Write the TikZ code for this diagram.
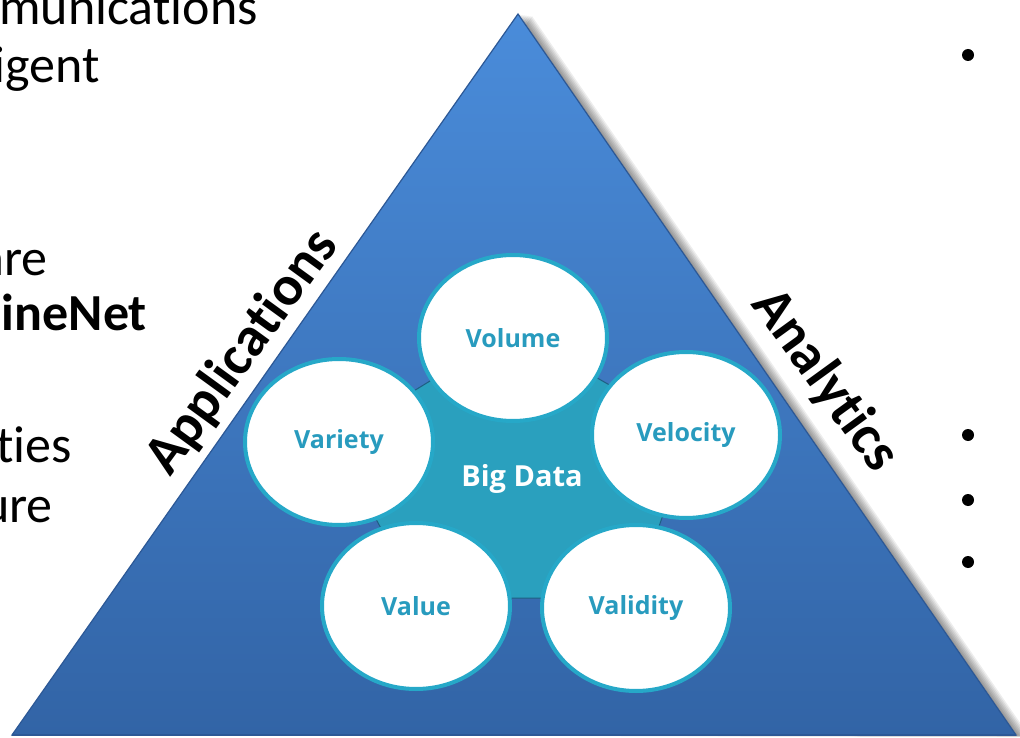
\documentclass[tikz,border=0pt]{standalone}
\usepackage{fontspec}
\setmainfont{Carlito}[Ligatures={NoCommon,NoContextual}]
\newfontfamily\vfont{Open Sans}
\usetikzlibrary{shapes.geometric}

\definecolor{triTop}{RGB}{74,140,218}
\definecolor{triBot}{RGB}{50,100,166}
\definecolor{triEdge}{RGB}{44,88,150}
\definecolor{hubTeal}{RGB}{42,160,190}
\definecolor{hubEdge}{RGB}{30,95,130}
\definecolor{ringTeal}{RGB}{38,168,200}
\definecolor{vText}{RGB}{40,155,190}

\tikzset{
  vcircle/.style={ellipse, draw=ringTeal, line width=4pt, fill=white,
    minimum width=188pt, minimum height=166pt, inner sep=0pt,
    font=\vfont\bfseries\fontsize{25}{28}\selectfont, text=vText},
  sidelabel/.style={font=\bfseries\fontsize{56}{60}\selectfont, text=black, inner sep=0pt},
  bodytext/.style={font=\fontsize{52}{58}\selectfont, text=black, inner sep=0pt, anchor=base east},
  bulletdot/.style={circle, fill=black, inner sep=0pt, minimum size=12pt},
}

\begin{document}
\begin{tikzpicture}[x=1pt,y=-1pt]
\useasboundingbox (0,0) rectangle (1020,738);
\fill[white] (0,0) rectangle (1020,738);

% triangle corners
\coordinate (apex) at (518,14);
\coordinate (bl) at (12,735);
\coordinate (br) at (1016,735);

% soft drop shadow along the right side
\foreach \d in {2,4,...,14}{
  \fill[black, opacity=0.07] ([xshift=\d pt, yshift=-0.15*\d pt]apex)
     -- ([xshift=\d pt, yshift=-0.15*\d pt]br) -- ([xshift=\d pt]bl) -- cycle;
}

% main triangle with vertical gradient
\shade[top color=triTop, bottom color=triBot, draw=triEdge, line width=1.2pt]
  (apex) -- (br) -- (bl) -- cycle;
\draw[triEdge, line width=2pt] (bl) -- (br);

% central hub behind the five circles
\filldraw[fill=hubTeal, draw=hubEdge, line width=1pt]
  (513,330) -- (692,432) -- (634,598) -- (418,598) -- (334,440) -- cycle;

\node[vcircle] (volume)   at (513,338) {Volume};
\node[vcircle] (variety)  at (339,442) {Variety};
\node[vcircle] (velocity) at (686,435) {Velocity};
\node[vcircle] (value)    at (416,606) {Value};
\node[vcircle] (validity) at (636,608) {Validity};

\node[font=\vfont\bfseries\fontsize{29}{32}\selectfont, text=white] (bigdata) at (522,479) {Big Data};

% labels along the two slanted sides
\node[sidelabel, rotate=54, anchor=base west] (apps) at (170,478) {Applications};
\node[sidelabel, rotate=-54, anchor=base west] (analytics) at (750,304) {Analytics};

% text on the left
\node[bodytext] (t1) at (258,25) {munications};
\node[bodytext] (t2) at (100,83) {igent};
\node[bodytext] (t3) at (48,275) {are};
\node[bodytext, font=\bfseries\fontsize{52}{58}\selectfont] (t4) at (147,330) {aineNet};
\node[bodytext] (t5) at (72,462) {ties};
\node[bodytext] (t6) at (53,522) {ure};

% bullets on the right
\node[bulletdot] (b1) at (968,55) {};
\node[bulletdot] (b2) at (968,435) {};
\node[bulletdot] (b3) at (968,500) {};
\node[bulletdot] (b4) at (968,562) {};
\end{tikzpicture}
\end{document}
